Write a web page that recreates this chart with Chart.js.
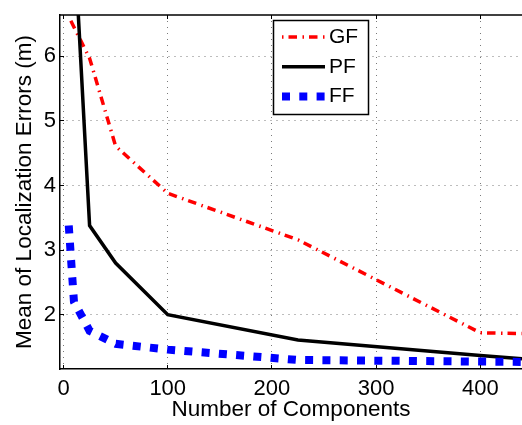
<!DOCTYPE html>
<html><head><meta charset="utf-8">
<script src="https://cdn.jsdelivr.net/npm/chart.js@4/dist/chart.umd.min.js"></script>
<style>html,body{margin:0;padding:0;background:#fff;}#wrap{width:522px;height:425px;}</style>
</head><body><div id="wrap"><canvas id="c" width="522" height="425"></canvas></div>
<script>
// ---- data ----
const seriesNames = ['GF', 'PF', 'FF'];
const gfX = [7, 25, 50, 100, 225, 400, 440];
const gfY = [6.55, 5.97, 4.61, 3.88, 3.16, 1.72, 1.71];
const pfX = [10, 25, 50, 100, 225, 400, 440];
const pfY = [7.9, 3.38, 2.8, 2.0, 1.61, 1.37, 1.32];
const ffX = [5, 10, 25, 50, 100, 225, 400, 440];
const ffY = [3.38, 2.2, 1.75, 1.55, 1.46, 1.30, 1.275, 1.27];
const xTicks = [0, 100, 200, 300, 400];
const yTicks = [2, 3, 4, 5, 6];
const xTitle = 'Number of Components';
const yTitle = 'Mean of Localization Errors (m)';

const FONT = '"Liberation Sans", Arial, Helvetica, sans-serif';
const pts = (xs, ys) => xs.map((x, i) => ({x: x, y: ys[i]}));

function alignPx(p, w) { return Math.round(p - w / 2) + w / 2; }

const framePlugin = {
  id: 'frame',
  afterDraw(chart) {
    const {ctx, chartArea: a, scales: {x, y}} = chart;
    ctx.save();
    // top frame line
    ctx.strokeStyle = '#000';
    ctx.lineWidth = 1.5;
    ctx.beginPath(); ctx.moveTo(a.left, a.top); ctx.lineTo(a.right, a.top); ctx.stroke();
    // inward tick marks
    ctx.lineWidth = 1;
    ctx.beginPath();
    xTicks.forEach(v => {
      const px = alignPx(x.getPixelForValue(v), 1);
      ctx.moveTo(px, a.bottom); ctx.lineTo(px, a.bottom - 4);
      ctx.moveTo(px, a.top); ctx.lineTo(px, a.top + 4);
    });
    yTicks.forEach(v => {
      const py = alignPx(y.getPixelForValue(v), 1);
      ctx.moveTo(a.left, py); ctx.lineTo(a.left + 4, py);
    });
    ctx.stroke();
    // legend box
    const bx = 273.5, by = 20.5, bw = 95, bh = 94;
    ctx.fillStyle = '#fff'; ctx.fillRect(bx, by, bw, bh);
    ctx.strokeStyle = '#000'; ctx.lineWidth = 1.5; ctx.strokeRect(bx, by, bw, bh);
    chart.data.datasets.forEach((ds, i) => {
      const yy = 37 + i * 29.75;
      ctx.save();
      ctx.strokeStyle = ds.borderColor;
      ctx.lineWidth = ds.borderWidth;
      ctx.lineCap = 'butt';
      ctx.setLineDash(ds.borderDash || []);
      ctx.lineDashOffset = ds.legendDashOffset || 0;
      ctx.beginPath(); ctx.moveTo(282, yy); ctx.lineTo(325, yy); ctx.stroke();
      ctx.restore();
      ctx.fillStyle = '#000';
      ctx.font = '21px ' + FONT;
      ctx.textAlign = 'left';
      ctx.textBaseline = 'middle';
      ctx.fillText(ds.label, 329, yy);
    });
    ctx.restore();
  }
};

new Chart(document.getElementById('c'), {
  type: 'scatter',
  data: {
    datasets: [
      {label: seriesNames[0], data: pts(gfX, gfY), showLine: true, borderColor: '#ff0000', borderWidth: 3.5,
       borderDash: [8.5, 5.5, 1.5, 5], legendDashOffset: 14, pointRadius: 0, tension: 0, clip: 0, order: 3},
      {label: seriesNames[1], data: pts(pfX, pfY), showLine: true, borderColor: '#000000', borderWidth: 3.5,
       pointRadius: 0, tension: 0, clip: 0, order: 2},
      {label: seriesNames[2], data: pts(ffX, ffY), showLine: true, borderColor: '#0000ff', borderWidth: 8,
       borderDash: [8, 9.3], pointRadius: 0, tension: 0, clip: 0, order: 1}
    ]
  },
  options: {
    responsive: false,
    animation: false,
    devicePixelRatio: 1,
    events: [],
    layout: {padding: {top: 6, right: 0, left: 0, bottom: 0}},
    plugins: {legend: {display: false}, tooltip: {enabled: false}},
    scales: {
      x: {
        type: 'linear', min: -3.4, max: 440,
        afterBuildTicks: s => { s.ticks = xTicks.map(v => ({value: v})); },
        afterFit: s => { s.height = 56; },
        ticks: {color: '#000', font: {family: FONT, size: 22, lineHeight: 1}, padding: 9, maxRotation: 0, autoSkip: false},
        grid: {color: '#7a7a7a', lineWidth: 1, drawTicks: false},
        border: {display: true, color: '#000', width: 1.5, dash: [1, 5]},
        title: {display: true, text: xTitle, color: '#000', font: {family: FONT, size: 22.5, lineHeight: 1}, padding: {top: 0, bottom: 4}}
      },
      y: {
        type: 'linear', min: 1.16, max: 6.64,
        afterBuildTicks: s => { s.ticks = yTicks.map(v => ({value: v})); },
        afterFit: s => { s.width = 60; },
        ticks: {color: '#000', font: {family: FONT, size: 22, lineHeight: 1}, padding: 4},
        grid: {color: '#7a7a7a', lineWidth: 1, drawTicks: false},
        border: {display: true, color: '#000', width: 1.5, dash: [1, 5]},
        title: {display: true, text: yTitle, color: '#000', font: {family: FONT, size: 22.5, lineHeight: 1}, padding: {top: 14, bottom: 0}}
      }
    }
  },
  plugins: [framePlugin]
});
</script>
</body></html>
